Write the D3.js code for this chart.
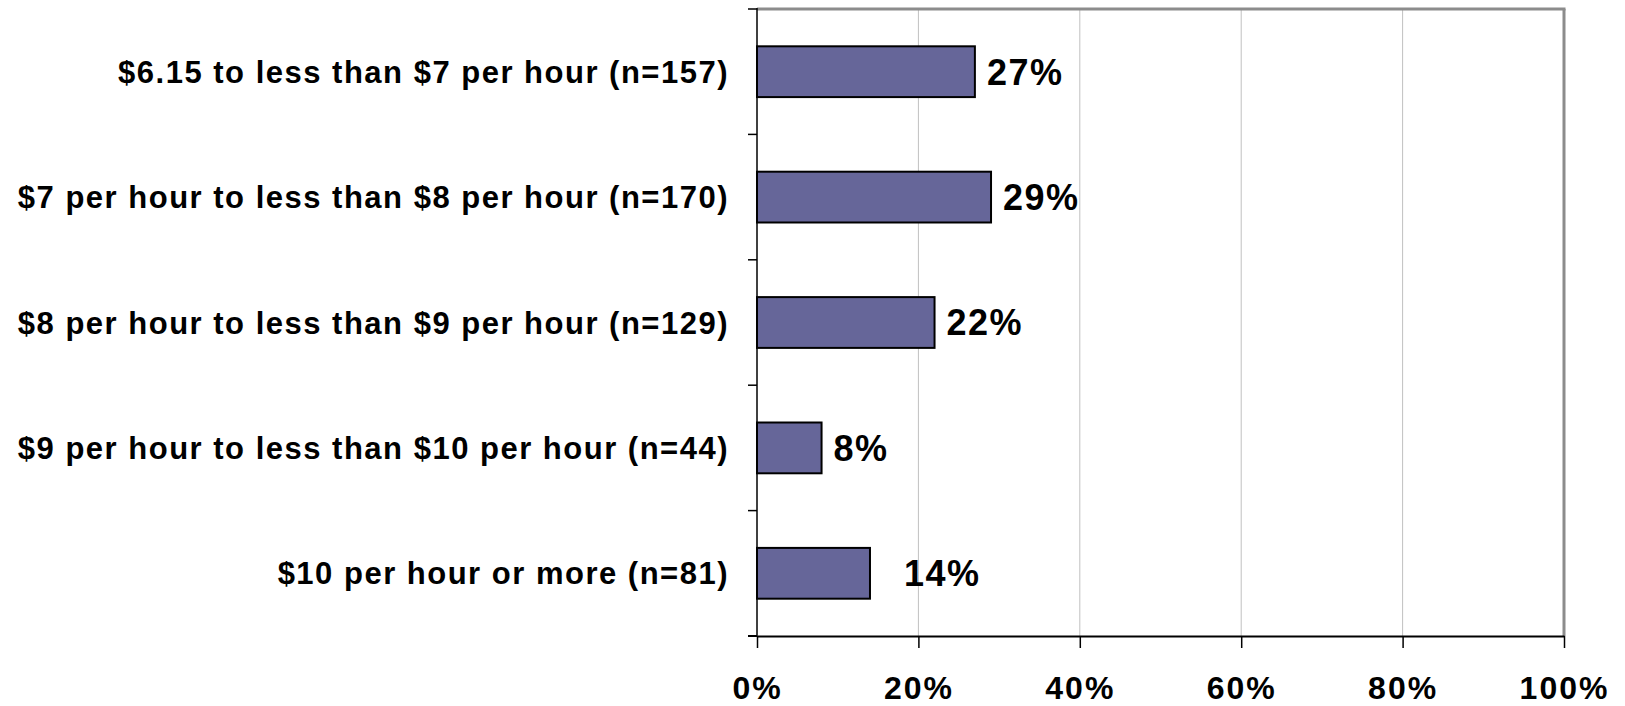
<!DOCTYPE html>
<html>
<head>
<meta charset="utf-8">
<script src="https://cdn.jsdelivr.net/npm/d3@7"></script>
<style>
  html, body { margin: 0; padding: 0; background: #ffffff; }
  svg { display: block; }
  text { font-family: "Liberation Sans", Arial, sans-serif; font-weight: bold; fill: #000; }
</style>
</head>
<body>
<svg id="chart" width="1625" height="706"></svg>
<script>
// ---- data ----
const categories = [
  "$6.15 to less than $7 per hour (n=157)",
  "$7 per hour to less than $8 per hour (n=170)",
  "$8 per hour to less than $9 per hour (n=129)",
  "$9 per hour to less than $10 per hour (n=44)",
  "$10 per hour or more (n=81)"
];
const values = [27, 29, 22, 8, 14];
const valueLabels = ["27%", "29%", "22%", "8%", "14%"];
const xTicks = [0, 20, 40, 60, 80, 100];
const xTickLabels = ["0%", "20%", "40%", "60%", "80%", "100%"];

// ---- layout / style ----
const plot = { left: 757, right: 1564, top: 9, bottom: 636 };
const labelNudge = [0, 0, 0, 0, 22]; // extra horizontal offset of value labels (as placed in original)
const barFill = "#666699";

const svg = d3.select("#chart");

const x = d3.scaleLinear().domain([0, 100]).range([plot.left, plot.right]);
const y = d3.scaleBand().domain(categories).range([plot.top, plot.bottom]).paddingInner(0.595).paddingOuter(0.2975);
const yOuter = d3.scaleBand().domain(categories).range([plot.top, plot.bottom]);

// gridlines
svg.append("g")
  .selectAll("line")
  .data(xTicks.filter(t => t > 0 && t < 100))
  .join("line")
  .attr("x1", d => x(d)).attr("x2", d => x(d))
  .attr("y1", plot.top).attr("y2", plot.bottom)
  .attr("stroke", "#c0c0c0").attr("stroke-width", 1);

// top and right border (gray)
svg.append("line")
  .attr("x1", plot.left).attr("x2", plot.right + 1.5)
  .attr("y1", plot.top).attr("y2", plot.top)
  .attr("stroke", "#8c8c8c").attr("stroke-width", 3);
svg.append("line")
  .attr("x1", plot.right).attr("x2", plot.right)
  .attr("y1", plot.top).attr("y2", plot.bottom)
  .attr("stroke", "#8c8c8c").attr("stroke-width", 3);

// bars
svg.append("g")
  .selectAll("rect")
  .data(values)
  .join("rect")
  .attr("x", x(0))
  .attr("y", (d, i) => y(categories[i]))
  .attr("width", d => x(d) - x(0))
  .attr("height", y.bandwidth())
  .attr("fill", barFill)
  .attr("stroke", "#000")
  .attr("stroke-width", 2);

// left axis (category)
const yAxisG = svg.append("g").attr("transform", `translate(${plot.left},0)`);
yAxisG.append("line")
  .attr("x1", 0).attr("x2", 0).attr("y1", plot.top - 1).attr("y2", plot.bottom)
  .attr("stroke", "#000").attr("stroke-width", 1.5);
const yTickPos = categories.map(c => yOuter(c)).concat([plot.bottom]);
yAxisG.selectAll("line.tick")
  .data(yTickPos)
  .join("line")
  .attr("class", "tick")
  .attr("x1", -9).attr("x2", 0)
  .attr("y1", d => d).attr("y2", d => d)
  .attr("stroke", "#000").attr("stroke-width", 1.5);

// category labels
svg.append("g")
  .selectAll("text")
  .data(categories)
  .join("text")
  .attr("x", plot.left - 28)
  .attr("y", d => y(d) + y.bandwidth() / 2)
  .attr("dy", "0.36em")
  .attr("text-anchor", "end")
  .style("font-size", "31px")
  .style("letter-spacing", "1.5px")
  .text(d => d);

// bottom axis
const xAxis = d3.axisBottom(x)
  .tickValues(xTicks)
  .tickFormat((d, i) => xTickLabels[i])
  .tickSizeInner(12)
  .tickSizeOuter(0)
  .tickPadding(28);
const xAxisG = svg.append("g")
  .attr("transform", `translate(0,${plot.bottom})`)
  .call(xAxis);
xAxisG.select(".domain").attr("stroke", "#000").attr("stroke-width", 2);
xAxisG.selectAll(".tick line").attr("stroke", "#000").attr("stroke-width", 1.5);
xAxisG.selectAll(".tick text")
  .style("font-family", "'Liberation Sans', Arial, sans-serif")
  .style("font-weight", "bold")
  .style("font-size", "32px")
  .style("letter-spacing", "2px")
  .attr("fill", "#000");
xAxisG.append("line")
  .attr("x1", plot.left - 9).attr("x2", plot.left)
  .attr("y1", 0).attr("y2", 0)
  .attr("stroke", "#000").attr("stroke-width", 2);

// value labels
svg.append("g")
  .selectAll("text")
  .data(values)
  .join("text")
  .attr("x", (d, i) => x(d) + 12 + labelNudge[i])
  .attr("y", (d, i) => y(categories[i]) + y.bandwidth() / 2)
  .attr("dy", "0.36em")
  .attr("text-anchor", "start")
  .style("font-size", "36px")
  .style("letter-spacing", "1.5px")
  .text((d, i) => valueLabels[i]);
</script>
</body>
</html>
